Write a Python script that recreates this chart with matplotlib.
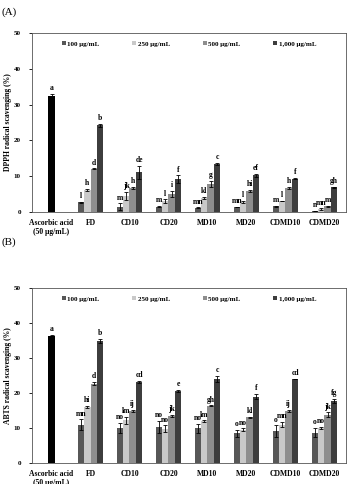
import numpy as np
import matplotlib.pyplot as plt

plt.rcParams['font.family'] = ['Liberation Serif', 'DejaVu Serif']
plt.rcParams['font.weight'] = 'bold'

samples = ["FD", "CD10", "CD20", "MD10", "MD20", "CDMD10", "CDMD20"]
ref_label = "Ascorbic acid\n(50 \u03bcg/mL)"
conc = ["100 \u03bcg/mL", "250 \u03bcg/mL", "500 \u03bcg/mL", "1,000 \u03bcg/mL"]
colors = ["#575757", "#c9c9c9", "#8e8e8e", "#3d3d3d"]

# DPPH (A)
dpph_ref, dpph_ref_err, dpph_ref_lab = 32.4, 0.5, "a"
dpph = [[2.7, 1.5, 1.5, 1.2, 1.4, 1.6, 0.3],
        [6.2, 4.5, 3.0, 4.0, 2.7, 3.0, 0.8],
        [12.1, 6.7, 5.1, 7.8, 5.8, 6.6, 1.6],
        [24.2, 11.1, 9.2, 13.4, 10.2, 9.3, 6.9]]
dpph_err = [[0.1, 0.9, 0.2, 0.1, 0.1, 0.1, 0.1],
            [0.3, 1.2, 0.5, 0.3, 0.3, 0.0, 0.2],
            [0.1, 0.3, 0.9, 0.8, 0.3, 0.3, 0.1],
            [0.5, 1.8, 1.0, 0.2, 0.4, 0.2, 0.2]]
dpph_lab = [["l", "m", "m", "mn", "mn", "m", "n"],
            ["h", "jk", "l", "kl", "l", "l", "mn"],
            ["d", "h", "i", "g", "hi", "h", "m"],
            ["b", "de", "f", "c", "ef", "f", "gh"]]

# ABTS (B)
abts_ref, abts_ref_err, abts_ref_lab = 36.3, 0.4, "a"
abts = [[11.0, 10.1, 10.3, 9.9, 8.6, 9.2, 8.7],
        [16.1, 12.2, 9.8, 12.0, 9.6, 11.0, 10.0],
        [22.7, 14.9, 13.5, 16.4, 13.1, 14.9, 13.8],
        [34.8, 23.2, 20.6, 24.1, 19.0, 24.0, 17.8]]
abts_err = [[1.5, 1.5, 1.8, 1.3, 1.0, 1.6, 1.3],
            [0.3, 1.0, 1.0, 0.2, 0.3, 0.8, 0.3],
            [0.4, 0.3, 0.2, 0.1, 0.2, 0.4, 0.7],
            [0.6, 0.2, 0.3, 0.8, 0.8, 0.1, 0.6]]
abts_lab = [["mn", "no", "no", "no", "o", "o", "o"],
            ["hi", "lm", "no", "lm", "no", "mn", "no"],
            ["d", "ij", "jk", "gh", "kl", "ij", "jk"],
            ["b", "cd", "e", "c", "f", "cd", "fg"]]


def panel(ax, ref, ref_err, ref_lab, vals, errs, labs, ylabel):
    w = 0.165
    x = np.arange(1, len(samples) + 1)
    ax.bar(0, ref, w, color="black", zorder=2)
    ax.errorbar(0, ref, yerr=ref_err, fmt="none", ecolor="black",
                elinewidth=0.6, capsize=1.2, capthick=0.6, zorder=3)
    ax.text(0, ref + ref_err + 0.5, ref_lab, ha="center", va="bottom",
            fontsize=5.5, fontweight="bold")
    for i in range(4):
        xi = x + (i - 1.5) * w
        ax.bar(xi, vals[i], w, color=colors[i], label=conc[i], zorder=2)
        ax.errorbar(xi, vals[i], yerr=errs[i], fmt="none", ecolor="black",
                    elinewidth=0.6, capsize=1.2, capthick=0.6, zorder=3)
        for xx, v, e, t in zip(xi, vals[i], errs[i], labs[i]):
            ax.text(xx, v + e + 0.5, t, ha="center", va="bottom",
                    fontsize=5.5, fontweight="bold")
    ax.set_xlim(-0.5, 7.55)
    ax.set_ylim(0, 50)
    ax.set_yticks([0, 10, 20, 30, 40, 50])
    ax.set_xticks(np.arange(0, 8))
    ax.set_xticklabels([ref_label] + samples, fontsize=5.5, fontweight="bold")
    ax.tick_params(axis="x", length=0, pad=5)
    ax.tick_params(axis="y", labelsize=5, length=2, width=0.6, pad=6)
    for s in ax.spines.values():
        s.set_linewidth(0.6)
        s.set_color("#555555")
    ax.set_ylabel(ylabel, fontsize=5.5, fontweight="bold")
    ax.yaxis.set_label_coords(-0.063, 0.5)
    ax.legend(loc="upper center", ncol=4, frameon=False, fontsize=5,
              handlelength=0.6, handleheight=0.6, handletextpad=0.2,
              columnspacing=4.7, bbox_to_anchor=(0.5, 0.99))


fig = plt.figure(figsize=(3.48, 4.84), dpi=100)
ax1 = fig.add_axes([0.092, 0.562, 0.902, 0.370])
ax2 = fig.add_axes([0.092, 0.043, 0.902, 0.362])

panel(ax1, dpph_ref, dpph_ref_err, dpph_ref_lab, dpph, dpph_err, dpph_lab,
      "DPPH radical scavenging (%)")
panel(ax2, abts_ref, abts_ref_err, abts_ref_lab, abts, abts_err, abts_lab,
      "ABTS radical scavenging (%)")

fig.text(0.005, 0.985, "(A)", fontsize=8, fontweight="normal", va="top")
fig.text(0.005, 0.51, "(B)", fontsize=8, fontweight="normal", va="top")

fig.savefig("out.png", dpi=100)
